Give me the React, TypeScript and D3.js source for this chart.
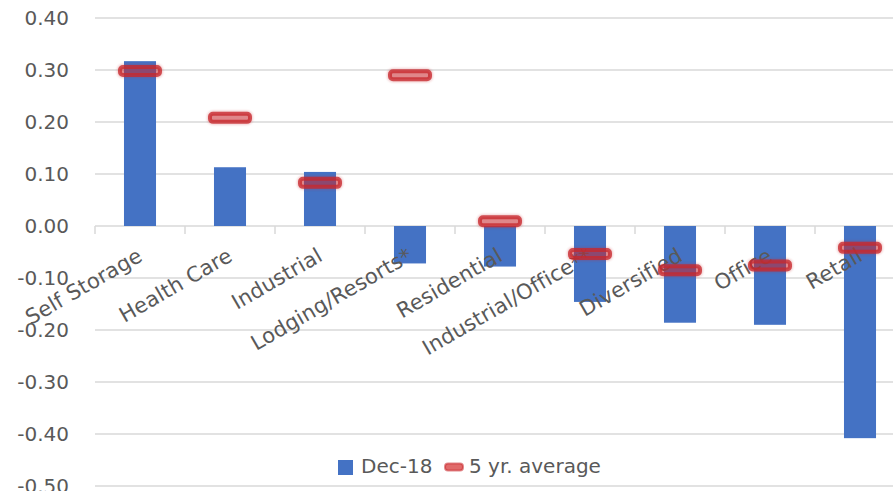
import React from "react";
import * as d3 from "d3";

const categories = [
  "Self Storage",
  "Health Care",
  "Industrial",
  "Lodging/Resorts*",
  "Residential",
  "Industrial/Office**",
  "Diversified",
  "Office",
  "Retail",
];
const dec18 = [0.317, 0.113, 0.104, -0.072, -0.078, -0.146, -0.186, -0.19, -0.408];
const fiveYrAvg = [0.298, 0.208, 0.083, 0.29, 0.009, -0.054, -0.085, -0.076, -0.042];
const yTicks = [0.4, 0.3, 0.2, 0.1, 0, -0.1, -0.2, -0.3, -0.4, -0.5];
const seriesNames = ["Dec-18", "5 yr. average"];

const W = 893;
const H = 491;
const FONT = "'DejaVu Sans', Verdana, sans-serif";
const TXT = "#595959";
const GRID = "#d9d9d9";
const BLUE = "#4472C4";
const RED = "#c8282d";

export default function App() {
  const x = d3.scaleBand<string>().domain(categories).range([95, 905]).paddingInner(0.644).paddingOuter(0.322);
  const xb = d3.scaleBand<string>().domain(categories).range([95, 905]);
  const y = d3.scaleLinear().domain([-0.5, 0.4]).range([486, 18]);
  const y0 = y(0);

  return (
    <svg width={W} height={H} style={{ position: "absolute", left: 0, top: 0, background: "#fff" }} fontFamily={FONT}>
      <defs>
        <filter id="glow" x="-30%" y="-80%" width="160%" height="260%">
          <feGaussianBlur stdDeviation="1" />
        </filter>
      </defs>
      {yTicks.map((t) => (
        <g key={t}>
          <line x1={95} x2={905} y1={y(t)} y2={y(t)} stroke={GRID} strokeWidth={1.5} />
          <text x={69} y={y(t)} dy="0.36em" textAnchor="end" fontSize={20} fill={TXT}>
            {d3.format(".2f")(t).replace("−", "-")}
          </text>
        </g>
      ))}
      {categories.map((c, i) => (
        <line key={"tk" + i} x1={xb(c)!} x2={xb(c)!} y1={y0} y2={y0 + 8} stroke={GRID} strokeWidth={1.5} />
      ))}
      {categories.map((c, i) => {
        const v = dec18[i];
        return (
          <rect
            key={"b" + i}
            x={x(c)!}
            width={x.bandwidth()}
            y={Math.min(y(v), y0)}
            height={Math.abs(y(v) - y0)}
            fill={BLUE}
          />
        );
      })}
      {categories.map((c, i) => {
        const cx = xb(c)! + xb.bandwidth() / 2;
        return (
          <text
            key={"l" + i}
            transform={`translate(${cx - 4},${246}) rotate(-30)`}
            textAnchor="end"
            dy="0.76em"
            fontSize={21}
            letterSpacing={0.2}
            fill={TXT}
          >
            {c}
          </text>
        );
      })}
      {categories.map((c, i) => {
        const cx = xb(c)! + xb.bandwidth() / 2;
        const cy = y(fiveYrAvg[i]);
        return (
          <g key={"m" + i}>
            <rect x={cx - 23} y={cy - 7} width={46} height={14} rx={6} fill={RED} opacity={0.25} filter="url(#glow)" />
            <rect x={cx - 20} y={cy - 4} width={40} height={8} rx={3} fill={RED} fillOpacity={0.4} stroke={RED} strokeOpacity={0.78} strokeWidth={4} />
          </g>
        );
      })}
      <g>
        <rect x={338} y={460} width={15} height={15} fill={BLUE} />
        <text x={361} y={473} fontSize={20} fill={TXT}>{seriesNames[0]}</text>
        <rect x={445} y={463.5} width={18} height={7} rx={3} fill="#e06a6a" stroke={RED} strokeOpacity={0.55} strokeWidth={2} />
        <text x={469} y={473} fontSize={20} fill={TXT}>{seriesNames[1]}</text>
      </g>
    </svg>
  );
}
